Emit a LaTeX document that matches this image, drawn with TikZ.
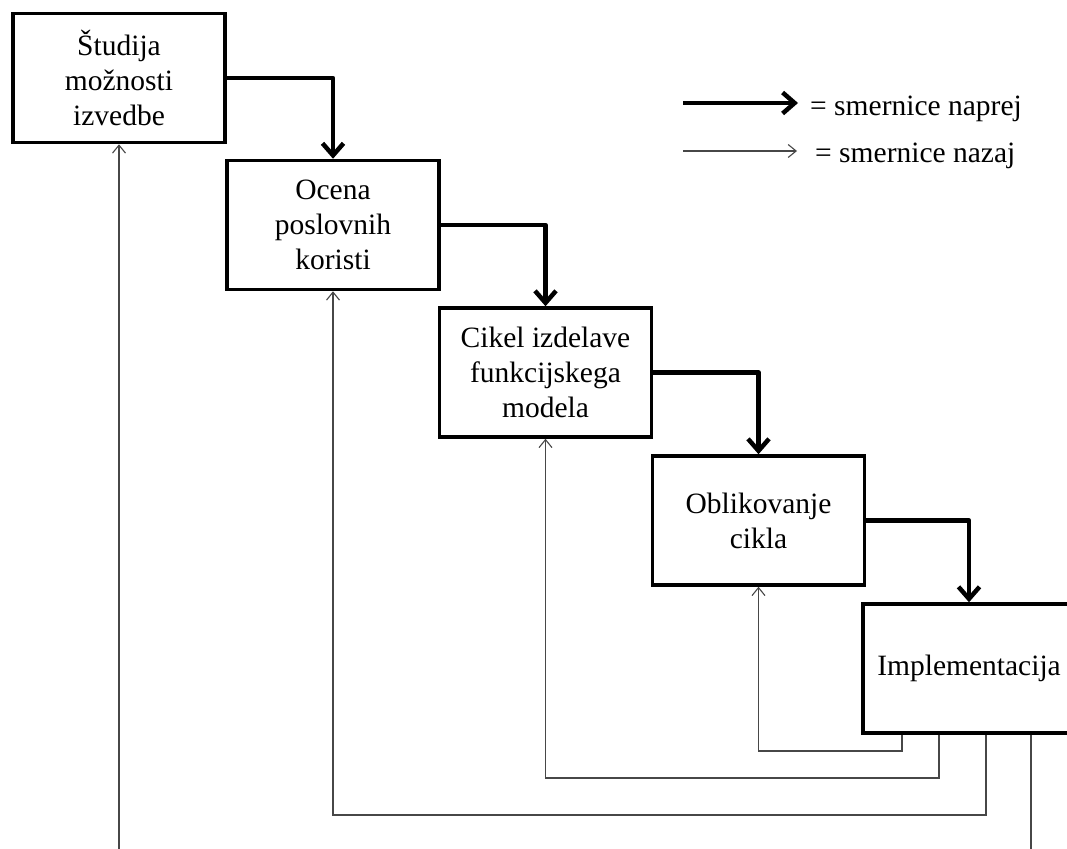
\documentclass[tikz,border=0pt]{standalone}
\usepackage{fontspec}
\setmainfont{Liberation Serif}
\usetikzlibrary{arrows.meta}
\begin{document}
\begin{tikzpicture}[x=1pt,y=-1pt,
  stage/.style={draw=black,line width=3.5pt,fill=white,minimum width=212pt,minimum height=129pt,
    inner sep=0pt,align=center,font=\fontsize{29.5}{35}\selectfont},
  fwd/.style={line width=4.5pt,line join=round,-{Straight Barb[length=12pt,width=21pt,line width=4.5pt]}},
  back/.style={line width=1.1pt,draw=black!72,-{Straight Barb[length=8pt,width=13pt,line width=1.1pt]}},
  legtext/.style={anchor=base west,inner sep=0pt,font=\fontsize{29.5}{35}\selectfont}]
\useasboundingbox (0,0) rectangle (1067,848);
\clip (0,0) rectangle (1067,848);
\fill[white] (0,0) rectangle (1067,848);
\node[stage] (a) at (119,78) {Študija\\možnosti\\izvedbe};
\node[stage] (b) at (333,225) {Ocena\\poslovnih\\koristi};
\node[stage] (c) at (545.5,372.5) {Cikel izdelave\\funkcijskega\\modela};
\node[stage] (d) at (758.5,520.5) {Oblikovanje\\cikla};
\node[stage] (e) at (969,668.5) {Implementacija};
\draw[fwd] (a.east) -| (b.north);
\draw[fwd] (b.east) -| (c.north);
\draw[fwd] (c.east) -| (d.north);
\draw[fwd] (d.east) -| (e.north);
\coordinate (r1) at (902,751);
\coordinate (r2) at (939,778);
\coordinate (r3) at (986,815);
\coordinate (r4) at (1031,880);
\draw[back] ([xshift=-67pt]e.south) -- (r1) -| (d.south);
\draw[back] ([xshift=-30pt]e.south) -- (r2) -| (c.south);
\draw[back] ([xshift=17pt]e.south) -- (r3) -| (b.south);
\draw[back] ([xshift=62pt]e.south) -- (r4) -| (a.south);
\coordinate (k1) at (683,103);
\coordinate (k2) at (683,151);
\node[legtext] (t1) at (810,115) {= smernice naprej};
\node[legtext] (t2) at (815,162) {= smernice nazaj};
\draw[fwd] (k1) -- ([xshift=-12pt]t1.west |- k1);
\draw[back] (k2) -- ([xshift=-18pt]t2.west |- k2);
\end{tikzpicture}
\end{document}
